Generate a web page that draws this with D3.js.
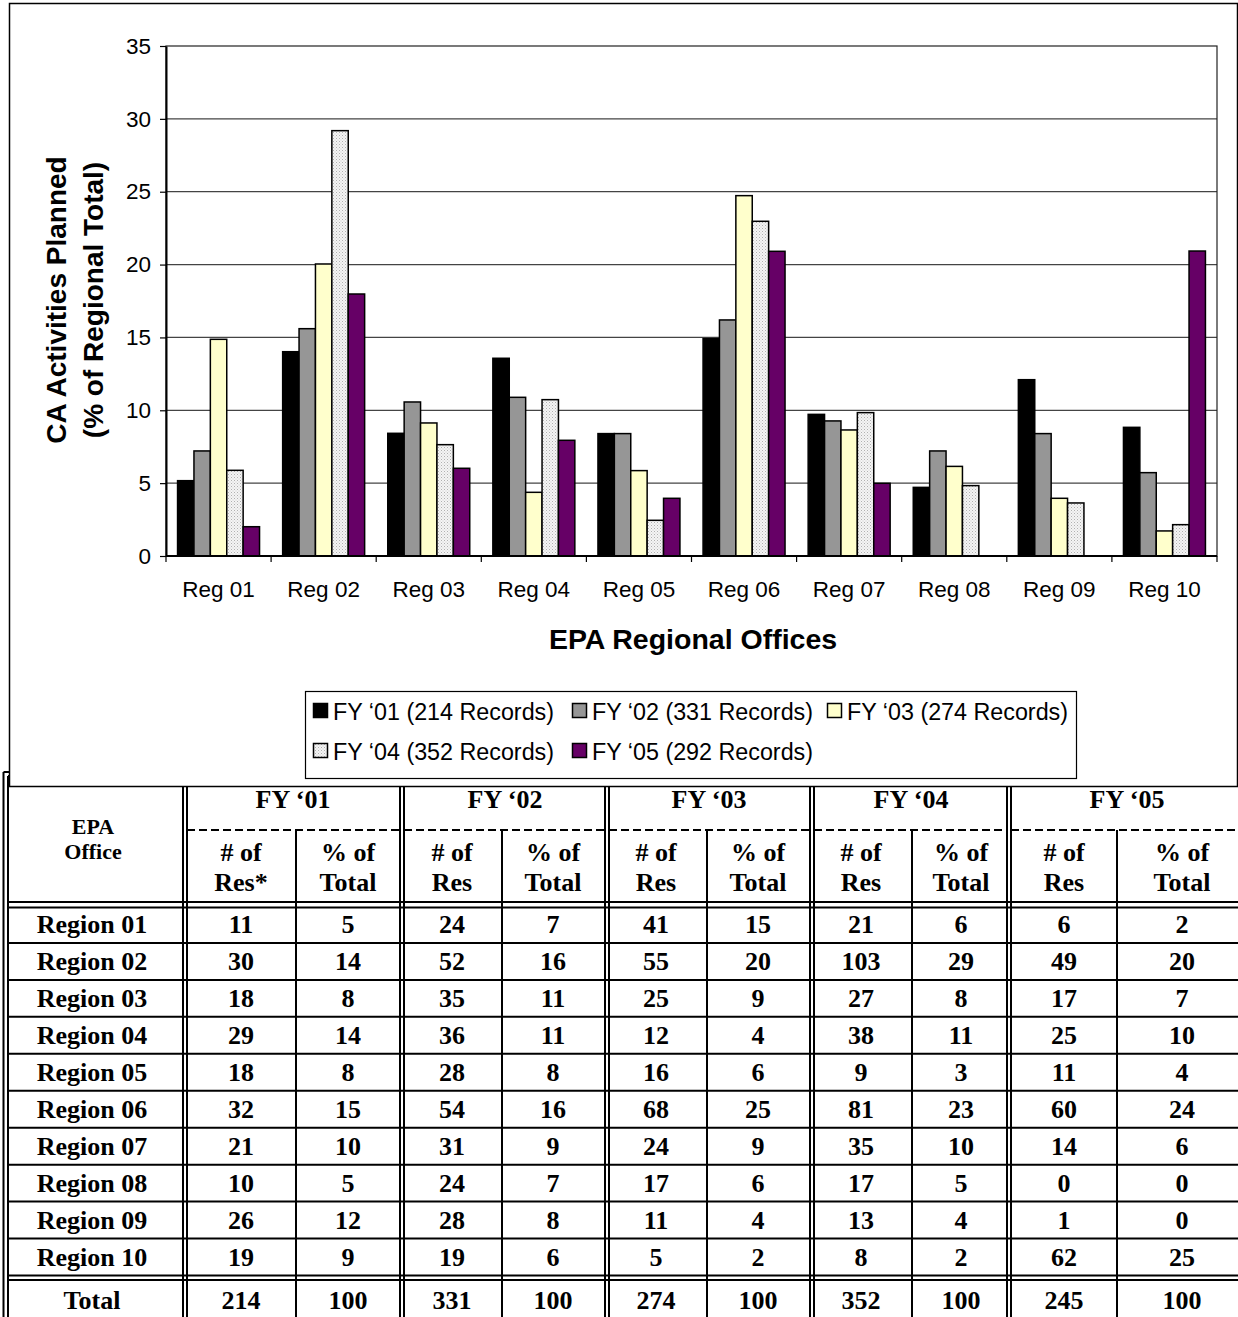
<!DOCTYPE html>
<html>
<head>
<meta charset="utf-8">
<script src="https://cdn.jsdelivr.net/npm/d3@7"></script>
<style>
  html, body { margin: 0; padding: 0; background: #fff; }
  svg { display: block; }
</style>
</head>
<body>
<div id="chart"></div>
<script>
// ---------- DATA ----------
const categories = ["Reg 01","Reg 02","Reg 03","Reg 04","Reg 05","Reg 06","Reg 07","Reg 08","Reg 09","Reg 10"];
const seriesNames = ["FY \u201801 (214 Records)","FY \u201802 (331 Records)","FY \u201803 (274 Records)","FY \u201804 (352 Records)","FY \u201805 (292 Records)"];
const fy01 = [5.17,14.02,8.42,13.57,8.40,14.92,9.72,4.71,12.10,8.83];
const fy02 = [7.21,15.60,10.57,10.89,8.40,16.20,9.27,7.21,8.40,5.72];
const fy03 = [14.87,20.04,9.13,4.37,5.86,24.73,8.65,6.15,3.96,1.72];
const fy04 = [5.88,29.19,7.64,10.73,2.45,22.97,9.84,4.83,3.64,2.15];
const fy05 = [2.01,17.98,6.02,7.94,3.96,20.91,4.99,0,0,20.93];
const yTicks = [0,5,10,15,20,25,30,35];

// table
const regions = ["Region 01","Region 02","Region 03","Region 04","Region 05","Region 06","Region 07","Region 08","Region 09","Region 10"];
const fyHeaders = ["FY \u201801","FY \u201802","FY \u201803","FY \u201804","FY \u201805"];
const res01 = [11,30,18,29,18,32,21,10,26,19], pct01 = [5,14,8,14,8,15,10,5,12,9];
const res02 = [24,52,35,36,28,54,31,24,28,19], pct02 = [7,16,11,11,8,16,9,7,8,6];
const res03 = [41,55,25,12,16,68,24,17,11,5],  pct03 = [15,20,9,4,6,25,9,6,4,2];
const res04 = [21,103,27,38,9,81,35,17,13,8],  pct04 = [6,29,8,11,3,23,10,5,4,2];
const res05 = [6,49,17,25,11,60,14,0,1,62],    pct05 = [2,20,7,10,4,24,6,0,0,25];
const totalRes = [214,331,274,352,245];
const totalPct = [100,100,100,100,100];

// ---------- SETUP ----------
const W = 1238, H = 1317;
const svg = d3.select("#chart").append("svg").attr("width", W).attr("height", H);
const defs = svg.append("defs");
const pat = defs.append("pattern").attr("id","dots").attr("width",3).attr("height",3)
  .attr("patternUnits","userSpaceOnUse");
pat.append("rect").attr("width",3).attr("height",3).attr("fill","#f4f4f4");
pat.append("rect").attr("x",0).attr("y",0).attr("width",1).attr("height",1).attr("fill","#b0b0b0");
pat.append("rect").attr("x",1.5).attr("y",1.5).attr("width",1).attr("height",1).attr("fill","#c8c8c8");

const fills = ["#000000","#969696","#ffffcc","url(#dots)","#660066"];
const series = [fy01, fy02, fy03, fy04, fy05];

// ---------- TABLE (drawn first, chart box overlaps its top) ----------
const serif = "'Liberation Serif','Times New Roman',serif";
const T = svg.append("g").attr("class","table");
const tTop = 772, headBot = 904, bodyTop = 906, rowH = 36.95, bodyBot = bodyTop + 10*rowH, totTop = 1280;
const groupEdges = [[183,187],[400,404],[605,609],[810,814],[1007,1011]];
const groupRight = [400,605,810,1007,1248];
const subDiv = [296,502,707,912,1117];
const lw = 2;

function line(x1,y1,x2,y2,w,dash){
  T.append("line").attr("x1",x1).attr("y1",y1).attr("x2",x2).attr("y2",y2)
    .attr("stroke","#000").attr("stroke-width",w||lw).attr("stroke-dasharray",dash||null);
}
// outer left double
line(3.5,tTop,3.5,H); line(8,tTop+4,8,H);
line(3.5,tTop,W,tTop); line(8,tTop+4,W,tTop+4);
// group double verticals
groupEdges.forEach(([a,b])=>{ line(a,tTop+4,a,H); line(b,tTop+4,b,H); });
// sub dividers
subDiv.forEach(x=> line(x,830,x,H));
// dashed line under FY headers
groupEdges.forEach(([a,b],i)=>{ line(b,830,groupRight[i],830,2,"8,4"); });
// header bottom double
line(8,headBot-2,W,headBot-2); line(8,bodyTop+1.5,W,bodyTop+1.5);
// row lines
d3.range(1,10).forEach(k=> line(8, bodyTop + k*rowH, W, bodyTop + k*rowH));
// total double
line(8,bodyBot,W,bodyBot); line(8,totTop,W,totTop);

function ttext(x,y,s,fs){
  T.append("text").attr("x",x).attr("y",y).attr("text-anchor","middle")
    .attr("font-family",serif).attr("font-weight","bold").attr("font-size",fs||26)
    .attr("fill","#000").text(s);
}
// header text
ttext(93,834,"EPA",22); ttext(93,859,"Office",22);
const groupCenters = [293,505,709,911,1127];
fyHeaders.forEach((h,i)=> ttext(groupCenters[i],808,h));
const resCx = [241,452,656,861,1064], pctCx = [348,553,758,961,1182];
resCx.forEach((x,i)=>{ ttext(x,861,"# of"); ttext(x,891, i===0 ? "Res*" : "Res"); });
pctCx.forEach(x=>{ ttext(x,861,"% of"); ttext(x,891,"Total"); });
// body
const resAll = [res01,res02,res03,res04,res05], pctAll = [pct01,pct02,pct03,pct04,pct05];
regions.forEach((r,i)=>{
  const cy = bodyTop + (i+0.5)*rowH + 8.5;
  ttext(92,cy,r);
  resAll.forEach((arr,g)=>{ ttext(resCx[g],cy,arr[i]); ttext(pctCx[g],cy,pctAll[g][i]); });
});
const tcy = 1309;
ttext(92,tcy,"Total");
totalRes.forEach((v,g)=>{ ttext(resCx[g],tcy,v); ttext(pctCx[g],tcy,totalPct[g]); });

// ---------- CHART BOX ----------
const sans = "Arial,'Liberation Sans',sans-serif";
svg.append("rect").attr("x",9.5).attr("y",3.5).attr("width",1228).attr("height",783)
  .attr("fill","#fff").attr("stroke","#000").attr("stroke-width",1.5);

const px0 = 166, px1 = 1217, py0 = 46, py1 = 556;
const x = d3.scaleBand().domain(categories).range([px0,px1]).padding(0);
const xs = d3.scaleBand().domain(d3.range(5)).range([0,x.bandwidth()]).paddingInner(0).paddingOuter(0.705);
const y = d3.scaleLinear().domain([0,35]).range([py1,py0]);

const C = svg.append("g");
// gridlines
C.selectAll(".grid").data(yTicks.filter(t=>t>0 && t<35)).join("line")
  .attr("x1",px0).attr("x2",px1).attr("y1",d=>y(d)).attr("y2",d=>y(d))
  .attr("stroke","#444").attr("stroke-width",1.2);
// plot frame
C.append("rect").attr("x",px0).attr("y",py0).attr("width",px1-px0).attr("height",py1-py0)
  .attr("fill","none").attr("stroke","#222").attr("stroke-width",1.2);

// bars
series.forEach((vals,s)=>{
  C.append("g").selectAll("rect").data(vals.map((v,i)=>({cat:categories[i], v})).filter(d=>d.v>0)).join("rect")
    .attr("x",d=>x(d.cat)+xs(s)).attr("width",xs.bandwidth())
    .attr("y",d=>y(d.v)).attr("height",d=>y(0)-y(d.v))
    .attr("fill",fills[s]).attr("stroke","#000").attr("stroke-width",1.5);
});

// y axis
const yAxis = d3.axisLeft(y).tickValues(yTicks).tickSize(6).tickPadding(9).tickSizeOuter(0);
const ya = C.append("g").attr("transform",`translate(${px0},0)`).call(yAxis);
ya.select(".domain").attr("stroke","#000").attr("stroke-width",2);
ya.selectAll(".tick line").attr("stroke","#000").attr("stroke-width",1.2);
ya.selectAll(".tick text").attr("font-family",sans).attr("font-size",22.5).attr("fill","#000");

// x axis
const xa = C.append("g").attr("transform",`translate(0,${py1})`);
xa.append("line").attr("x1",px0).attr("x2",px1).attr("stroke","#000").attr("stroke-width",2);
const bounds = categories.map(c=>x(c)).concat([px1]);
xa.selectAll(".xt").data(bounds).join("line").attr("x1",d=>d).attr("x2",d=>d).attr("y1",0).attr("y2",6)
  .attr("stroke","#000").attr("stroke-width",1.2);
xa.selectAll(".xl").data(categories).join("text")
  .attr("x",d=>x(d)+x.bandwidth()/2).attr("y",41).attr("text-anchor","middle")
  .attr("font-family",sans).attr("font-size",22.5).attr("fill","#000").text(d=>d);

// axis titles
C.append("text").attr("x",693).attr("y",649).attr("text-anchor","middle")
  .attr("font-family",sans).attr("font-weight","bold").attr("font-size",28.5).text("EPA Regional Offices");
const yt = C.append("text").attr("transform","translate(0,300) rotate(-90)")
  .attr("text-anchor","middle").attr("font-family",sans).attr("font-weight","bold").attr("font-size",28);
yt.append("tspan").attr("x",0).attr("y",66).text("CA  Activities Planned");
yt.append("tspan").attr("x",0).attr("y",103).text("(% of Regional Total)");

// legend
const L = svg.append("g");
L.append("rect").attr("x",305.5).attr("y",691.5).attr("width",771).attr("height",87)
  .attr("fill","#fff").attr("stroke","#000").attr("stroke-width",1.2);
const legPos = [[313,720],[572,720],[827,720],[313,760],[572,760]];
seriesNames.forEach((n,i)=>{
  const [lx,ly] = legPos[i];
  L.append("rect").attr("x",lx+0.5).attr("y",ly-16.5).attr("width",14).attr("height",14)
    .attr("fill",fills[i]).attr("stroke","#000").attr("stroke-width",1.5);
  L.append("text").attr("x",lx+20).attr("y",ly).attr("font-family",sans).attr("font-size",23.3)
    .attr("fill","#000").text(n);
});
</script>
</body>
</html>
